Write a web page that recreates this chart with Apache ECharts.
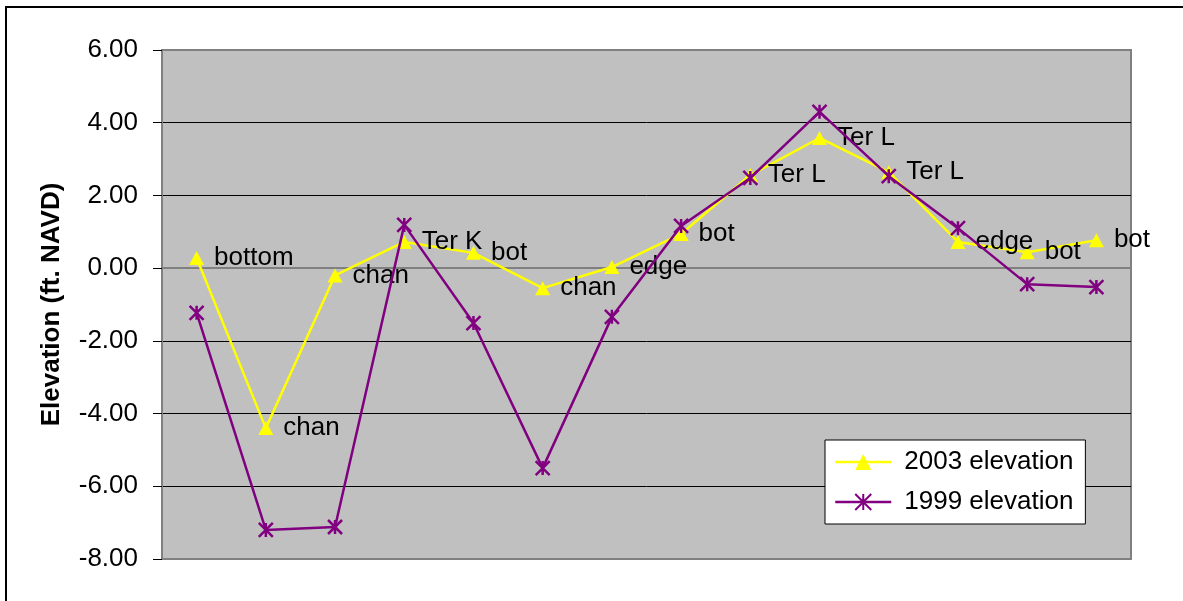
<!DOCTYPE html>
<html>
<head>
<meta charset="utf-8">
<script src="https://cdn.jsdelivr.net/npm/echarts@6/dist/echarts.min.js"></script>
<style>
  html, body { margin: 0; padding: 0; background: #fff; }
  #chart { width: 1183px; height: 601px; }
</style>
</head>
<body>
<div id="chart"></div>
<script>
// point descriptions along the transect (shown as labels on the 2003 line)
const pointLabels = ['bottom', 'chan', 'chan', 'Ter K', 'bot', 'chan', 'edge', 'bot', 'Ter L', 'Ter L', 'Ter L', 'edge', 'bot', 'bot']
const elev2003 = [0.28, -4.40, -0.20, 0.72, 0.42, -0.55, 0.03, 0.94, 2.56, 3.58, 2.64, 0.72, 0.44, 0.77]
const elev1999 = [-1.23, -7.20, -7.12, 1.19, -1.51, -5.50, -1.34, 1.16, 2.48, 4.30, 2.53, 1.10, -0.44, -0.52]
const yTicks = { min: -8, max: 6, step: 2 }

const font = 'Liberation Sans, Arial, sans-serif'
const asterisk = 'path://M0,0L10,10M10,0L0,10M5,0L5,10'

const chart = echarts.init(document.getElementById('chart'))

const option = {
  animation: false,
  backgroundColor: '#fff',
  textStyle: { fontFamily: font },
  graphic: [{
    type: 'rect',
    shape: { x: 6, y: 7, width: 1200, height: 700 },
    style: { fill: 'none', stroke: '#000', lineWidth: 2 },
    silent: true
  }],
  grid: {
    left: 162,
    top: 50,
    width: 969,
    height: 509,
    show: true,
    backgroundColor: '#c0c0c0',
    borderColor: '#808080',
    borderWidth: 2
  },
  legend: {
    left: 825,
    top: 440,
    orient: 'vertical',
    backgroundColor: '#fff',
    borderColor: '#000',
    borderWidth: 1,
    borderRadius: 0,
    padding: [9, 12, 9, 9],
    itemGap: 14,
    itemWidth: 56,
    itemHeight: 20,
    lineStyle: { width: 2.5 },
    textStyle: { fontFamily: font, fontSize: 26, color: '#000', padding: [0, 0, 0, 8] },
    data: ['2003 elevation', '1999 elevation']
  },
  xAxis: {
    type: 'category',
    data: pointLabels,
    boundaryGap: true,
    axisLine: { lineStyle: { color: '#808080', width: 2 } },
    axisTick: { show: false },
    axisLabel: { show: false },
    splitLine: { show: false }
  },
  yAxis: {
    type: 'value',
    min: yTicks.min,
    max: yTicks.max,
    interval: yTicks.step,
    name: 'Elevation (ft. NAVD)',
    nameLocation: 'middle',
    nameGap: 97,
    nameTextStyle: { fontFamily: font, fontSize: 26, fontWeight: 'bold', color: '#000' },
    axisLine: { show: true, lineStyle: { color: '#808080', width: 2 } },
    axisTick: { show: true, length: 9, lineStyle: { color: '#000' } },
    axisLabel: {
      margin: 24,
      fontFamily: font,
      fontSize: 26,
      color: '#000',
      formatter: v => v.toFixed(2)
    },
    splitLine: { show: true, showMinLine: false, showMaxLine: false, lineStyle: { color: '#000', width: 1 } }
  },
  series: [
    {
      name: '2003 elevation',
      type: 'line',
      data: elev2003,
      symbol: 'triangle',
      symbolSize: [15, 14],
      lineStyle: { color: '#ffff00', width: 2.5 },
      itemStyle: { color: '#ffff00' },
      label: {
        show: true,
        position: 'right',
        distance: 10,
        fontFamily: font,
        fontSize: 26,
        color: '#000',
        formatter: p => pointLabels[p.dataIndex]
      },
      z: 2
    },
    {
      name: '1999 elevation',
      type: 'line',
      data: elev1999,
      symbol: asterisk,
      symbolSize: 14,
      lineStyle: { color: '#800080', width: 2.5 },
      itemStyle: { color: '#800080', borderColor: '#800080', borderWidth: 2.5 },
      z: 3
    }
  ]
}

chart.setOption(option)
</script>
</body>
</html>
